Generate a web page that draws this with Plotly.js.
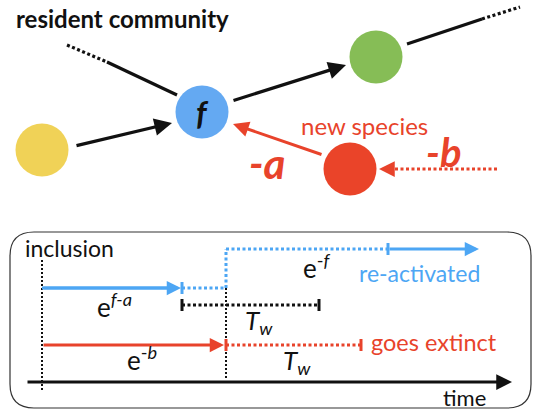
<!DOCTYPE html>
<html><head><meta charset="utf-8">
<script src="https://cdn.plot.ly/plotly-3.0.1.min.js"></script>
<style>html,body{margin:0;padding:0;background:#fff}</style>
</head><body><div id="chart" style="width:533px;height:412px"></div>
<script>
// ---- Food-web nodes ----
const nodeX = [42, 202, 376, 350];
const nodeY = [150, 112, 57, 169];
const nodeColors = ['#F0D257', '#64A9F2', '#86BD56', '#EA4429'];
const focalLabel = 'f';

// ---- Interaction links [x0, y0, x1, y1] ----
const solidLinks = [[107, 62, 177, 95], [407, 44, 482, 19]];
const dottedLinks = [[67, 45, 107, 62], [482, 19, 520, 7]];
const blackArrows = [[75, 146, 172, 123], [232, 101, 346, 65]];
const redArrow = [323, 155, 233, 124];
const redDottedArrow = [497, 169, 379, 169];

// ---- Timeline events ----
const tInclusion = 42, tFirst = 182, tEb = 226, tTw1 = 319, tReact = 388, tReactEnd = 479, tExtinct = 361;
const timeAxis = [26, 512];
const rowBlueHigh = 249, rowBlueLow = 288, rowTw = 305, rowRed = 345, rowAxis = 382;
const box = [10, 232, 531, 408];

const BLACK = '#111111', RED = '#E8432B', BLUE = '#4DA6F4';
const FONT = 'Lato, "Open Sans", sans-serif';
const DOT = '3px,2.5px';

const traces = [];
const annotations = [];
function seg(x0, y0, x1, y1, color, width, dash) {
  traces.push({x: [x0, x1], y: [y0, y1], type: 'scatter', mode: 'lines',
    line: {color: color, width: width, dash: dash || 'solid'}, hoverinfo: 'skip', showlegend: false});
}
function tick(x, y, color) { seg(x, y - 6, x, y + 6, color, 3); }
function head(x, y, fromX, fromY, color, width, size) {
  annotations.push({x: x, y: y, ax: fromX, ay: fromY, xref: 'x', yref: 'y', axref: 'x', ayref: 'y',
    text: '', showarrow: true, arrowhead: 2, arrowsize: size || 1, arrowwidth: width, arrowcolor: color, standoff: 0});
}
function label(x, y, text, size, color, xanchor) {
  annotations.push({x: x, y: y, xref: 'x', yref: 'y', text: text, showarrow: false,
    xanchor: xanchor || 'center', yanchor: 'middle', font: {family: FONT, size: size, color: color}});
}

// links
solidLinks.forEach(l => seg(l[0], l[1], l[2], l[3], BLACK, 3.2));
dottedLinks.forEach(l => seg(l[0], l[1], l[2], l[3], BLACK, 3.2, DOT));
blackArrows.forEach(l => head(l[2], l[3], l[0], l[1], BLACK, 3.2, 1.1));
head(redArrow[2], redArrow[3], redArrow[0], redArrow[1], RED, 3, 1.05);
seg(redDottedArrow[0], redDottedArrow[1], redDottedArrow[2] + 10, redDottedArrow[3], RED, 3, DOT);
head(redDottedArrow[2], redDottedArrow[3], redDottedArrow[2] + 6, redDottedArrow[3], RED, 3, 1.05);

// nodes
traces.push({x: nodeX, y: nodeY, type: 'scatter', mode: 'markers',
  marker: {size: 53, color: nodeColors, line: {width: 0}}, hoverinfo: 'skip', showlegend: false});
label(nodeX[1], nodeY[1], '<b><i>' + focalLabel + '</i></b>', 32, BLACK, 'center');

// timeline
seg(tInclusion, 260, tInclusion, 390, BLACK, 2, '2px,2px');
seg(tEb, rowBlueLow, tEb, 378, BLACK, 2, '2px,2px');
seg(tInclusion, rowBlueLow, tFirst - 8, rowBlueLow, BLUE, 3);
head(tFirst - 1, rowBlueLow, tInclusion, rowBlueLow, BLUE, 3, 0.95);
tick(tFirst, rowBlueLow, BLUE);
seg(tFirst, rowBlueLow, tEb, rowBlueLow, BLUE, 3, DOT);
seg(tEb, rowBlueLow, tEb, rowBlueHigh, BLUE, 3, DOT);
seg(tEb, rowBlueHigh, tReact, rowBlueHigh, BLUE, 3, DOT);
tick(tReact, rowBlueHigh, BLUE);
head(tReactEnd, rowBlueHigh, tReact, rowBlueHigh, BLUE, 3, 0.95);
tick(tFirst, rowTw, BLACK);
seg(tFirst, rowTw, tTw1, rowTw, BLACK, 3, DOT);
tick(tTw1, rowTw, BLACK);
head(tEb - 2, rowRed, tInclusion, rowRed, RED, 3, 0.95);
tick(tEb, rowRed, RED);
seg(tEb, rowRed, tExtinct, rowRed, RED, 3, DOT);
tick(tExtinct, rowRed, RED);
head(timeAxis[1], rowAxis, timeAxis[0], rowAxis, BLACK, 3, 1.05);

// text
label(14, 18, '<b>resident community</b>', 24, BLACK, 'left');
label(364, 125, 'new species', 24, RED, 'center');
label(267, 163, '<b><i>-a</i></b>', 42, RED, 'center');
label(443, 152, '<b><i>-b</i></b>', 40, RED, 'center');
label(23, 248, 'inclusion', 23, BLACK, 'left');
label(95, 305, 'e<sup><i>f-a</i></sup>', 26, BLACK, 'left');
label(125, 358, 'e<sup>-<i>b</i></sup>', 26, BLACK, 'left');
label(301, 266, 'e<sup>-<i>f</i></sup>', 26, BLACK, 'left');
label(243, 321, '<i>T<sub>w</sub></i>', 26, BLACK, 'left');
label(281, 361, '<i>T<sub>w</sub></i>', 26, BLACK, 'left');
label(419, 273, 're-activated', 23, BLUE, 'center');
label(434, 342, 'goes extinct', 23.5, RED, 'center');
label(464, 397, 'time', 22, BLACK, 'center');

const r = 24;
const boxPath = `M ${box[0]+r},${box[1]} L ${box[2]-r},${box[1]} Q ${box[2]},${box[1]} ${box[2]},${box[1]+r} ` +
  `L ${box[2]},${box[3]-r} Q ${box[2]},${box[3]} ${box[2]-r},${box[3]} L ${box[0]+r},${box[3]} ` +
  `Q ${box[0]},${box[3]} ${box[0]},${box[3]-r} L ${box[0]},${box[1]+r} Q ${box[0]},${box[1]} ${box[0]+r},${box[1]} Z`;

const layout = {
  width: 533, height: 412, margin: {l: 0, r: 0, t: 0, b: 0},
  paper_bgcolor: '#ffffff', plot_bgcolor: '#ffffff',
  xaxis: {range: [0, 533], visible: false, fixedrange: true},
  yaxis: {range: [412, 0], visible: false, fixedrange: true},
  shapes: [{type: 'path', path: boxPath, xref: 'x', yref: 'y', line: {color: '#333333', width: 1.2}, layer: 'below'}],
  annotations: annotations,
  showlegend: false
};
Plotly.newPlot('chart', traces, layout, {staticPlot: true, displayModeBar: false});
</script>
</body></html>
